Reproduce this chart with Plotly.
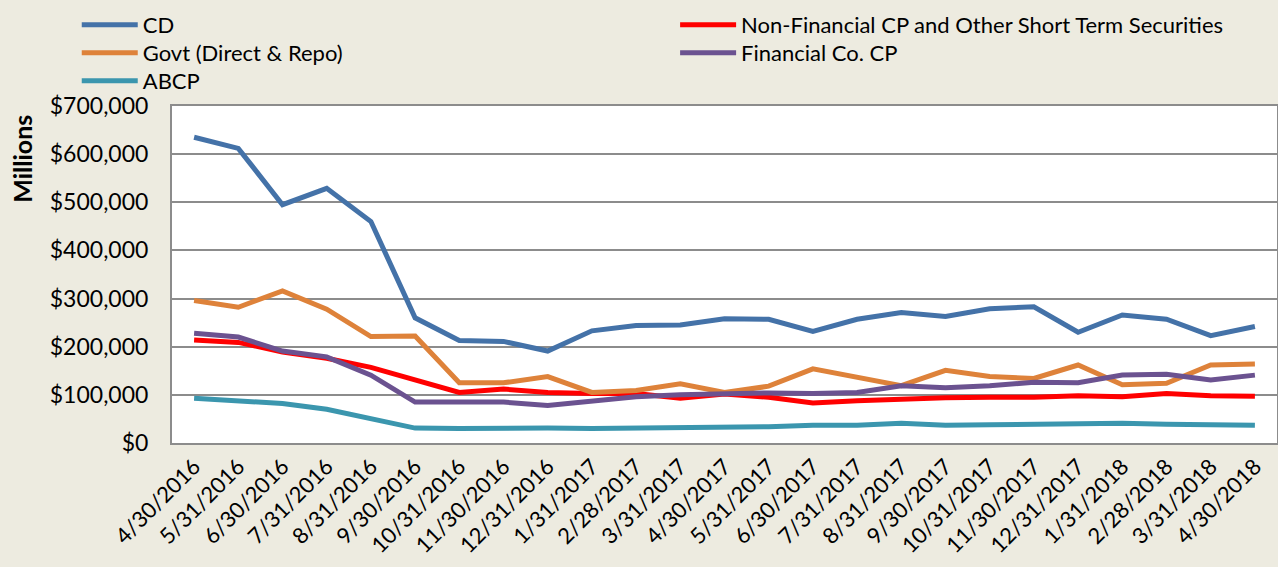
import plotly.graph_objects as go

dates = ["4/30/2016", "5/31/2016", "6/30/2016", "7/31/2016", "8/31/2016", "9/30/2016",
         "10/31/2016", "11/30/2016", "12/31/2016", "1/31/2017", "2/28/2017", "3/31/2017",
         "4/30/2017", "5/31/2017", "6/30/2017", "7/31/2017", "8/31/2017", "9/30/2017",
         "10/31/2017", "11/30/2017", "12/31/2017", "1/31/2018", "2/28/2018", "3/31/2018",
         "4/30/2018"]

cd = [635000, 612000, 495000, 529000, 460000, 260000, 213000, 211000, 191000, 233000,
      244000, 245000, 258000, 257000, 232000, 257000, 271000, 263000, 279000, 283000,
      230000, 266000, 257000, 223000, 242000]
nonfin = [214000, 209000, 189000, 176000, 157000, 131000, 105000, 112000, 105000, 103000,
          103000, 93000, 102000, 95000, 83000, 88000, 92000, 94000, 95000, 95000,
          98000, 96000, 103000, 98000, 97000]
govt = [296000, 282000, 316000, 278000, 221000, 222000, 125000, 125000, 138000, 105000,
        109000, 123000, 105000, 118000, 154000, 137000, 119000, 151000, 138000, 134000,
        162000, 121000, 124000, 162000, 164000]
finco = [228000, 220000, 191000, 179000, 141000, 85000, 85000, 85000, 78000, 88000,
         96000, 100000, 103000, 104000, 103000, 105000, 119000, 115000, 119000, 126000,
         125000, 141000, 143000, 131000, 141000]
abcp = [93000, 88000, 82000, 70000, 51000, 31000, 30000, 31000, 31000, 30000,
        31000, 30000, 33000, 34000, 37000, 37000, 41000, 37000, 38000, 39000,
        41000, 41000, 39000, 38000, 37000]

y_ticks = [0, 100000, 200000, 300000, 400000, 500000, 600000, 700000]

# (name, values, colour, legend id, legend x, legend y)
series = [
    ("CD", cd, "#4472A8", "legend", -0.0862, 1.2404),
    ("Non-Financial CP and Other Short Term Securities", nonfin, "#FF0000", "legend2", 0.4553, 1.2404),
    ("Govt (Direct & Repo)", govt, "#DE823A", "legend3", -0.0862, 1.1573),
    ("Financial Co. CP", finco, "#6B5290", "legend4", 0.4553, 1.1573),
    ("ABCP", abcp, "#3B96AE", "legend5", -0.0862, 1.0742),
]

FONT = "Lato"
fig = go.Figure()
legends = {}
for name, vals, color, lg, lx, ly in series:
    fig.add_trace(go.Scatter(x=dates, y=vals, name=name, mode="lines", showlegend=True,
                             line=dict(color=color, width=5), legend=lg))
    legends[lg] = dict(x=lx, y=ly, xanchor="left", yanchor="middle", orientation="v",
                       bgcolor="rgba(0,0,0,0)", font=dict(size=22, family=FONT, color="black"),
                       itemwidth=56)

fig.update_layout(
    width=1278, height=567, showlegend=True,
    paper_bgcolor="#EDEBE0", plot_bgcolor="white",
    margin=dict(l=172, r=1, t=106, b=124),
    font=dict(family=FONT, color="black"),
    xaxis=dict(type="category", range=[-0.5, 24.5], showgrid=False, tickangle=-45,
               tickfont=dict(size=22, family=FONT), showline=True, linecolor="#8C8C8C",
               linewidth=2, mirror=True, ticks="", automargin=False),
    yaxis=dict(range=[0, 700000], tickvals=y_ticks, tickformat="$,.0f",
               showgrid=True, gridcolor="#8C8C8C", gridwidth=2,
               tickfont=dict(size=23, family=FONT), showline=True, linecolor="#8C8C8C",
               linewidth=2, mirror=True, ticks="", ticklabelstandoff=17,
               zeroline=False, automargin=False),
    annotations=[dict(text="<b>Millions</b>", textangle=-90, xref="paper", yref="paper",
                      x=-0.1353, y=0.845, xanchor="center", yanchor="middle",
                      showarrow=False, font=dict(size=25, family=FONT, color="black"))],
)
fig.update_layout(**legends)

fig.write_html("out.html", post_script="document.body.style.margin='0';",
               config={"displayModeBar": False})
